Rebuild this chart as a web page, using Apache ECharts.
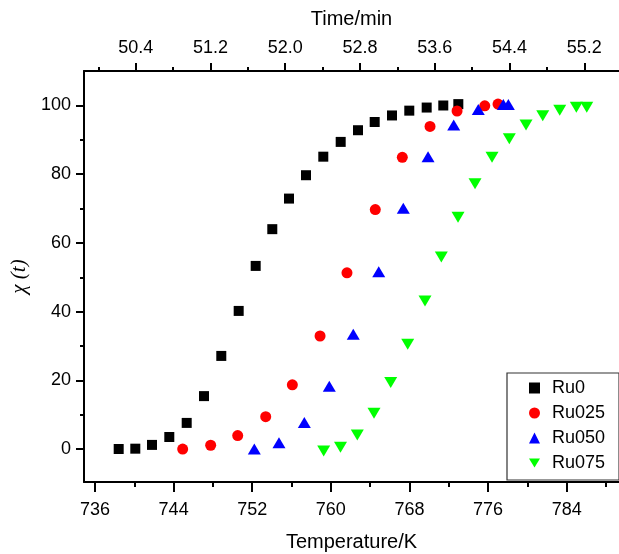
<!DOCTYPE html>
<html>
<head>
<meta charset="utf-8">
<title>Conversion vs temperature</title>
<script src="https://cdn.jsdelivr.net/npm/echarts@6/dist/echarts.min.js"></script>
<style>
  html, body { margin: 0; padding: 0; background: #ffffff; }
  #chart { width: 619px; height: 554px; }
</style>
</head>
<body>
<div id="chart"></div>
<script>
// Temperature (K) and conversion χ(t) (%) for each sample
const ru0T   = [738.41, 740.10, 741.80, 743.56, 745.33, 747.09, 748.85, 750.62, 752.35, 754.04, 755.74,
                757.47, 759.23, 761.00, 762.76, 764.46, 766.22, 767.98, 769.75, 771.44, 772.97];
const ru0X   = [0.0, 0.1, 1.2, 3.5, 7.6, 15.4, 27.1, 40.2, 53.3, 64.0, 72.9,
                79.7, 85.1, 89.4, 92.8, 95.2, 97.1, 98.5, 99.4, 100.0, 100.4];

const ru025T = [744.92, 747.77, 750.52, 753.37, 756.08, 758.90, 761.64, 764.52, 767.27, 770.09, 772.84, 775.66, 777.01];
const ru025X = [0.0, 1.1, 3.9, 9.4, 18.7, 32.9, 51.3, 69.7, 84.9, 93.9, 98.4, 99.9, 100.4];

const ru050T = [752.21, 754.72, 757.30, 759.84, 762.28, 764.87, 767.37, 769.89, 772.50, 775.00, 777.55, 778.06];
const ru050X = [0.0, 1.8, 7.7, 18.3, 33.4, 51.6, 70.1, 85.1, 94.3, 98.8, 100.3, 100.3];

const ru075T = [759.27, 760.98, 762.69, 764.39, 766.09, 767.82, 769.58, 771.24, 772.94, 774.67, 776.40,
                778.16, 779.86, 781.56, 783.29, 784.98, 786.04];
const ru075X = [-0.6, 0.5, 4.1, 10.4, 19.4, 30.5, 43.1, 55.9, 67.5, 77.2, 84.9,
                90.3, 94.3, 97.0, 98.6, 99.5, 99.5];

// Axis tick positions
const tempTicks      = [736, 744, 752, 760, 768, 776, 784];
const tempMinorTicks = [740, 748, 756, 764, 772, 780, 788];
const timeTicks      = [50.4, 51.2, 52.0, 52.8, 53.6, 54.4, 55.2];
const timeMinorTicks = [50.0, 50.8, 51.6, 52.4, 53.2, 54.0, 54.8];
const chiTicks       = [0, 20, 40, 60, 80, 100];
const chiMinorTicks  = [10, 30, 50, 70, 90];

const seriesNames = ['Ru0', 'Ru025', 'Ru050', 'Ru075'];

const T_MIN = 734.88, T_MAX = 789.32;
const TIME_MIN = 49.847, TIME_MAX = 55.571;
const CHI_MIN = -9.6, CHI_MAX = 110.04;

const FONT = 'Liberation Sans, Arial, Helvetica, sans-serif';
const downTriangle = 'path://M0,0 L12,0 L6,10 Z';

function pairs(xs, ys) { return xs.map((x, i) => [x, ys[i]]); }

const axisBlack = { lineStyle: { color: '#000', width: 2 } };

const chart = echarts.init(document.getElementById('chart'), null, { renderer: 'canvas' });

chart.setOption({
  animation: false,
  backgroundColor: '#ffffff',
  grid: { left: 84, right: 0, top: 71, bottom: 72, containLabel: false, outerBoundsMode: 'none' },
  xAxis: [
    { // temperature axis, major ticks and labels
      type: 'value', position: 'bottom', min: T_MIN, max: T_MAX,
      name: 'Temperature/K', nameLocation: 'middle', nameGap: 50,
      nameTextStyle: { fontFamily: FONT, fontSize: 20, color: '#000' },
      axisLine: { show: true, onZero: false, ...axisBlack },
      axisTick: { show: true, inside: false, length: 10, customValues: tempTicks, lineStyle: { color: '#000', width: 2 } },
      axisLabel: { customValues: tempTicks, margin: 19, fontFamily: FONT, fontSize: 18, color: '#000' },
      splitLine: { show: false }
    },
    { // time axis along the top
      type: 'value', position: 'top', min: TIME_MIN, max: TIME_MAX,
      name: 'Time/min', nameLocation: 'middle', nameGap: 42,
      nameTextStyle: { fontFamily: FONT, fontSize: 20, color: '#000' },
      axisLine: { show: true, onZero: false, ...axisBlack },
      axisTick: { show: true, inside: false, length: 8, customValues: timeTicks, lineStyle: { color: '#000', width: 2 } },
      axisLabel: { customValues: timeTicks, margin: 14, fontFamily: FONT, fontSize: 18, color: '#000',
                   formatter: v => v.toFixed(1) },
      splitLine: { show: false }
    },
    { // temperature minor ticks
      type: 'value', position: 'bottom', min: T_MIN, max: T_MAX,
      axisLine: { show: false, onZero: false },
      axisTick: { show: true, length: 5, customValues: tempMinorTicks, lineStyle: { color: '#000', width: 2 } },
      axisLabel: { show: false }, splitLine: { show: false }
    },
    { // time minor ticks
      type: 'value', position: 'top', min: TIME_MIN, max: TIME_MAX,
      axisLine: { show: false, onZero: false },
      axisTick: { show: true, length: 4, customValues: timeMinorTicks, lineStyle: { color: '#000', width: 2 } },
      axisLabel: { show: false }, splitLine: { show: false }
    }
  ],
  yAxis: [
    {
      type: 'value', position: 'left', min: CHI_MIN, max: CHI_MAX,
      name: 'χ (t)', nameLocation: 'middle', nameGap: 53,
      nameTextStyle: { fontFamily: 'Liberation Serif, Times New Roman, serif', fontStyle: 'italic', fontSize: 21, color: '#000' },
      axisLine: { show: true, onZero: false, ...axisBlack },
      axisTick: { show: true, length: 8, customValues: chiTicks, lineStyle: { color: '#000', width: 2 } },
      axisLabel: { customValues: chiTicks, margin: 13, fontFamily: FONT, fontSize: 18, color: '#000' },
      splitLine: { show: false }
    },
    {
      type: 'value', position: 'left', min: CHI_MIN, max: CHI_MAX,
      axisLine: { show: false, onZero: false },
      axisTick: { show: true, length: 4, customValues: chiMinorTicks, lineStyle: { color: '#000', width: 2 } },
      axisLabel: { show: false }, splitLine: { show: false }
    }
  ],
  legend: {
    orient: 'vertical',
    left: 507, top: 373,
    padding: [6, 14, 8, 22],
    itemGap: 7,
    itemWidth: 11, itemHeight: 11,
    borderColor: '#333', borderWidth: 1.2,
    backgroundColor: '#fff',
    textStyle: { fontFamily: FONT, fontSize: 18, color: '#000', lineHeight: 18, padding: [0, 0, 0, 7] },
    data: seriesNames
  },
  series: [
    { name: seriesNames[0], type: 'scatter', xAxisIndex: 0, yAxisIndex: 0,
      symbol: 'rect', symbolSize: 10, itemStyle: { color: '#000000', opacity: 1 },
      data: pairs(ru0T, ru0X), z: 3 },
    { name: seriesNames[1], type: 'scatter', xAxisIndex: 0, yAxisIndex: 0,
      symbol: 'circle', symbolSize: 11, itemStyle: { color: '#ff0000', opacity: 1 },
      data: pairs(ru025T, ru025X), z: 4 },
    { name: seriesNames[2], type: 'scatter', xAxisIndex: 0, yAxisIndex: 0,
      symbol: 'triangle', symbolSize: [13, 11], itemStyle: { color: '#0000ff', opacity: 1 },
      data: pairs(ru050T, ru050X), z: 5 },
    { name: seriesNames[3], type: 'scatter', xAxisIndex: 0, yAxisIndex: 0,
      symbol: downTriangle, symbolSize: [13, 11], itemStyle: { color: '#00ff00', opacity: 1 },
      data: pairs(ru075T, ru075X), z: 6 }
  ]
});
</script>
</body>
</html>
